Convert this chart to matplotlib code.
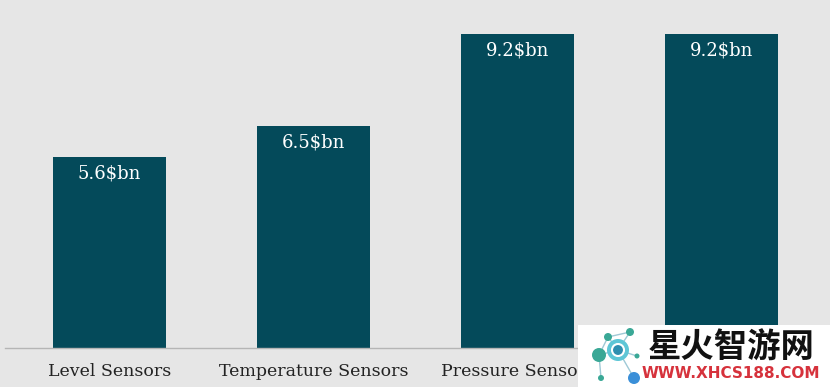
import matplotlib
matplotlib.use("Agg")
import matplotlib.pyplot as plt
from matplotlib.patches import Rectangle, Ellipse
from matplotlib.lines import Line2D

# values
categories = ["Level Sensors", "Temperature Sensors", "Pressure Sensors", ""]
values = [5.6, 6.5, 9.2, 9.2]
labels = ["5.6$bn", "6.5$bn", "9.2$bn", "9.2$bn"]

BG = "#e6e6e6"
BAR = "#044a5a"
W, H = 830, 387

fig = plt.figure(figsize=(8.3, 3.87), dpi=100, facecolor=BG)
ax = fig.add_axes([5 / W, 39 / H, 821 / W, 348 / H])
ax.set_facecolor(BG)

x = list(range(len(categories)))
bars = ax.bar(x, values, width=0.554, color=BAR, zorder=2)

for b, lab in zip(bars, labels):
    ax.annotate(lab, (b.get_x() + b.get_width() / 2, b.get_height()),
                xytext=(0, -12), textcoords="offset points",
                ha="center", va="center", color="white",
                fontsize=13, family="DejaVu Serif")

ax.set_xlim(-0.512, 3.512)
ax.set_ylim(0, 10.2)
ax.set_xticks(x)
ax.set_xticklabels(categories, fontsize=12.5, family="DejaVu Serif", color="#222222")
ax.tick_params(axis="x", length=0, pad=11)
ax.set_yticks([])
for s in ["top", "left", "right"]:
    ax.spines[s].set_visible(False)
ax.spines["bottom"].set_color("#b5b5b5")
ax.spines["bottom"].set_linewidth(1)


def fx(px):
    return px / W


def fy(py):
    return 1 - py / H


# watermark patch in the lower right corner
fig.patches.append(Rectangle((fx(578), 0), 252 / W, 62 / H,
                             transform=fig.transFigure, facecolor="white",
                             edgecolor="none", zorder=5))
nodes = [(599, 355, 7, "#3aa896"), (618, 350, 11, "#5ec6d6"),
         (634, 378, 6, "#3a8fd8"), (608, 337, 4, "#3aa896"),
         (630, 332, 4, "#3aa896"), (601, 378, 3, "#3aa896"),
         (637, 356, 2.5, "#3aa896")]
for a, b in [(0, 1), (1, 2), (3, 4), (3, 1), (4, 1), (0, 5), (1, 6), (0, 3)]:
    fig.lines.append(Line2D([fx(nodes[a][0]), fx(nodes[b][0])],
                            [fy(nodes[a][1]), fy(nodes[b][1])],
                            transform=fig.transFigure, color="#9fc9d6",
                            lw=1, zorder=6))
for cx, cy, r, c in nodes:
    fig.patches.append(Ellipse((fx(cx), fy(cy)), 2 * r / W, 2 * r / H,
                               transform=fig.transFigure, facecolor=c,
                               edgecolor="none", zorder=7))
fig.patches.append(Ellipse((fx(618), fy(350)), 12 / W, 12 / H,
                           transform=fig.transFigure, facecolor="#2f8fb0",
                           edgecolor="white", lw=1.5, zorder=8))
fig.text(fx(731), fy(348), "星火智游网", ha="center", va="center",
         fontsize=24, fontweight="bold", color="#111111",
         family=["Noto Sans CJK SC", "DejaVu Sans"], zorder=9)
fig.text(fx(731), fy(374), "WWW.XHCS188.COM", ha="center", va="center",
         fontsize=11, fontweight="bold", color="#d6323c",
         family="DejaVu Sans", zorder=9)

fig.savefig("out.png", dpi=100, facecolor=BG)
